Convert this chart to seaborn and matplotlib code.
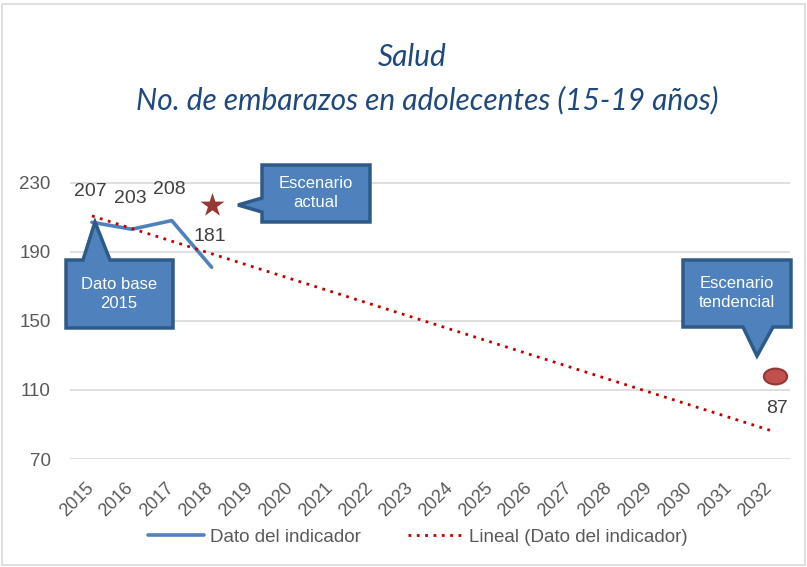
import matplotlib
matplotlib.use("Agg")
import matplotlib.pyplot as plt
from matplotlib.patches import Polygon, Rectangle
from matplotlib.path import Path
from matplotlib.transforms import Affine2D, ScaledTranslation
import numpy as np
import pandas as pd
import seaborn as sns

# ---- data ----
years = [str(y) for y in range(2015, 2033)]
obs_years = ["2015", "2016", "2017", "2018"]
obs_values = [207, 203, 208, 181]
actual_year = "2018"
actual_value = 217
trend_year = "2032"
trend_marker_value = 118
yticks = [70, 110, 150, 190, 230]

W, H = 807, 567
sns.set_theme(style="white")
plt.rcParams["font.family"] = ["Liberation Sans", "DejaVu Sans"]

fig = plt.figure(figsize=(W / 100, H / 100), dpi=100)
fig.patch.set_facecolor("white")
ax = fig.add_axes([70 / W, 1 - 459 / H, 720 / W, (459 - 148) / H])

xpos = {y: i for i, y in enumerate(years)}
df = pd.DataFrame({"x": [xpos[y] for y in obs_years], "v": obs_values})

# linear trend of the observed series (like Excel's linear trendline)
coef = np.polyfit(df["x"], df["v"], 1)
tx = np.array([0, len(years) - 1], dtype=float)
tdf = pd.DataFrame({"x": tx, "v": np.polyval(coef, tx)})

sns.lineplot(data=df, x="x", y="v", ax=ax, color="#4F81BD", linewidth=2.6,
             label="Dato del indicador", legend=False)
sns.lineplot(data=tdf, x="x", y="v", ax=ax, color="#C00000", linewidth=2.0,
             linestyle=(0, (1, 2)), label="Lineal (Dato del indicador)", legend=False)

ax.scatter([xpos[actual_year]], [actual_value], marker="*", s=330, color="#953735",
           zorder=5, linewidths=0)
ellipse = Path.unit_circle().transformed(Affine2D().scale(1.0, 0.68))
ax.scatter([xpos[trend_year] + 0.12], [trend_marker_value], marker=ellipse, s=280,
           color="#C0504D", edgecolors="#943634", linewidths=1.5, zorder=5)

# data labels
for x, v in zip(df["x"], df["v"]):
    ax.annotate(str(v), (x, v), xytext=(-2, 31), textcoords="offset pixels",
                ha="center", va="center", fontsize=14, color="#404040")
end_val = np.polyval(coef, len(years) - 1)
ax.annotate(f"{end_val:.0f}", (len(years) - 1, end_val), xytext=(7, 22),
            textcoords="offset pixels", ha="center", va="center",
            fontsize=14, color="#404040")

ax.set_xlim(-0.55, len(years) - 0.5)
ax.set_ylim(70, 250)
ax.set_yticks(yticks)
ax.set_xticks(range(len(years)))
ax.set_xticklabels(years, rotation=45, ha="right", rotation_mode="anchor")
ax.tick_params(axis="x", labelsize=13, colors="#595959", pad=6, length=0)
ax.tick_params(axis="y", labelsize=13.5, colors="#595959", pad=14, length=0)
shift = ScaledTranslation(-0.07, -0.12, fig.dpi_scale_trans)
for lab in ax.get_xticklabels():
    lab.set_transform(lab.get_transform() + shift)
ax.set_xlabel("")
ax.set_ylabel("")
ax.grid(axis="y", color="#D9D9D9", linewidth=1.2)
ax.set_axisbelow(True)
for s in ax.spines.values():
    s.set_visible(False)

# titles
fig.text(412 / W, 1 - 57 / H, "Salud", ha="center", va="center", fontsize=21.5,
         style="italic", color="#1F497D", family=["Lato", "DejaVu Sans"])
fig.text(427 / W, 1 - 100 / H, "No. de embarazos en adolecentes (15-19 años)",
         ha="center", va="center", fontsize=21.5, style="italic", color="#1F497D",
         family=["Lato", "DejaVu Sans"])


def fp(pts):
    return [(x / W, 1 - y / H) for x, y in pts]


def callout(pts, text, cx, cy):
    poly = Polygon(fp(pts), closed=True, transform=fig.transFigure,
                   facecolor="#4F81BD", edgecolor="#2E5A88", linewidth=2.5,
                   joinstyle="miter", zorder=10)
    fig.patches.append(poly)
    fig.text(cx / W, 1 - cy / H, text, ha="center", va="center", fontsize=12,
             color="white", linespacing=1.3, zorder=11)


callout([(262, 165), (370, 165), (370, 222), (262, 222), (262, 212), (238, 205),
         (262, 198)], "Escenario\nactual", 316, 193)
callout([(66, 260), (83, 260), (95, 222), (110, 260), (173, 260), (173, 328),
         (66, 328)], "Dato base\n2015", 119, 294)
callout([(683, 260), (791, 260), (791, 327), (773, 327), (757, 356), (743, 327),
         (683, 327)], "Escenario\ntendencial", 737, 293)

# legend
handles, labels = ax.get_legend_handles_labels()
leg = fig.legend(handles, labels, loc="center", bbox_to_anchor=(418 / W, 1 - 537 / H),
                 ncol=2, frameon=False, fontsize=13.5, handlelength=3.0,
                 columnspacing=2.5, handletextpad=0.3)
for t in leg.get_texts():
    t.set_color("#595959")

# outer chart border
fig.patches.append(Rectangle((2 / W, 2 / H), (W - 4) / W, (H - 6) / H,
                             transform=fig.transFigure, fill=False,
                             edgecolor="#D9D9D9", linewidth=1.2))

fig.savefig("out.png", dpi=100)
